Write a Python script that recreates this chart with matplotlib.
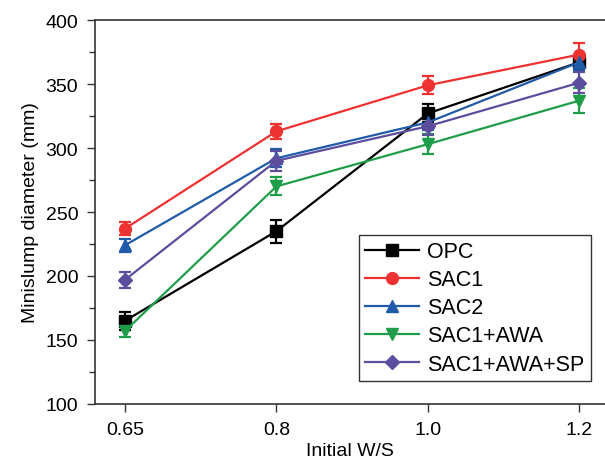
import numpy as np
import matplotlib.pyplot as plt
import matplotlib.ticker as tck
from matplotlib.lines import Line2D

plt.rcParams['font.family'] = ['Liberation Sans', 'DejaVu Sans']

# W/S ratios, plotted as evenly spaced categories
ws_labels = ["0.65", "0.8", "1.0", "1.2"]

opc = [165, 235, 327, 367]
opc_err = [7, 9, 7, 6]
sac1 = [237, 313, 349, 373]
sac1_err = [5, 6, 7, 9]
sac2 = [224, 292, 320, 367]
sac2_err = [5, 7, 6, 6]
sac1_awa = [157, 270, 303, 337]
sac1_awa_err = [5, 7, 8, 10]
sac1_awa_sp = [197, 290, 317, 351]
sac1_awa_sp_err = [6, 8, 7, 8]

series = [
    ("OPC", opc, opc_err, "black", "s"),
    ("SAC1", sac1, sac1_err, "#ee3131", "o"),
    ("SAC2", sac2, sac2_err, "#1f5ba8", "^"),
    ("SAC1+AWA", sac1_awa, sac1_awa_err, "#1f9e4a", "v"),
    ("SAC1+AWA+SP", sac1_awa_sp, sac1_awa_sp_err, "#5c4d9f", "D"),
]

fig = plt.figure(figsize=(6.05, 4.64), dpi=100)
ax = fig.add_axes([95/605, 59/464, 510/605, 384/464])

x = np.arange(len(ws_labels))
handles = []
for name, y, err, c, m in series:
    ms = 7.5 if m == "D" else 8.5
    ax.errorbar(x, y, yerr=err, color=c, marker=m, markersize=ms, lw=1.6,
                capsize=4.5, capthick=1.6, elinewidth=1.6)
    handles.append(Line2D([], [], color=c, marker=m, markersize=ms, lw=1.6,
                          label=name))

ax.set_xlim(-0.198, 3.17)
ax.set_ylim(100, 400)
ax.set_xticks(x)
ax.set_xticklabels(ws_labels)
ax.yaxis.set_major_locator(tck.MultipleLocator(50))
ax.yaxis.set_minor_locator(tck.MultipleLocator(25))
ax.tick_params(axis='both', which='major', direction='out', length=6,
               width=1, labelsize=14, color='#333333', pad=6)
ax.tick_params(axis='y', which='minor', direction='out', length=4, width=1,
               color='#333333')
for s in ax.spines.values():
    s.set_linewidth(1.2)
    s.set_color('#333333')
ax.spines['right'].set_visible(False)

ax.set_xlabel("Initial W/S", fontsize=14, labelpad=3)
ax.set_ylabel("Minislump diameter (mm)", fontsize=14, labelpad=5)

leg = ax.legend(handles=handles, loc='lower right',
                bbox_to_anchor=(0.9725, 0.06), fontsize=15.5,
                frameon=True, fancybox=False, edgecolor='black',
                handlelength=2.5, borderpad=0.3, labelspacing=0.33,
                handletextpad=0.37, borderaxespad=0)
leg.get_frame().set_linewidth(1.0)

plt.savefig("out.png", dpi=100)
